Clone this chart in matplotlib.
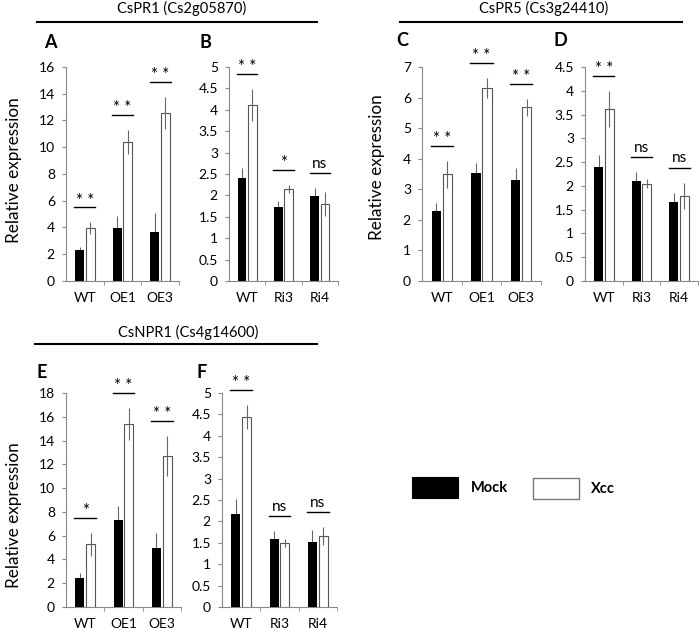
import numpy as np
import matplotlib.pyplot as plt
from matplotlib.patches import Rectangle
from matplotlib.ticker import FormatStrFormatter, FixedLocator

plt.rcParams['font.family'] = ['Lato', 'DejaVu Sans']

# ---- data ----
cats_oe = ['WT', 'OE1', 'OE3']
cats_ri = ['WT', 'Ri3', 'Ri4']

# CsPR1, panel A (overexpression) and B (RNAi)
a_mock = [2.31, 3.98, 3.68]
a_mock_err = [0.25, 0.90, 1.40]
a_xcc = [3.93, 10.40, 12.56]
a_xcc_err = [0.45, 0.90, 1.20]
a_sig = ['**', '**', '**']

b_mock = [2.40, 1.73, 1.99]
b_mock_err = [0.25, 0.13, 0.18]
b_xcc = [4.11, 2.15, 1.80]
b_xcc_err = [0.38, 0.10, 0.29]
b_sig = ['**', '*', 'ns']

# CsPR5, panel C and D
c_mock = [2.30, 3.52, 3.30]
c_mock_err = [0.24, 0.33, 0.39]
c_xcc = [3.49, 6.31, 5.68]
c_xcc_err = [0.45, 0.33, 0.28]
c_sig = ['**', '**', '**']

d_mock = [2.40, 2.10, 1.67]
d_mock_err = [0.25, 0.19, 0.19]
d_xcc = [3.62, 2.05, 1.79]
d_xcc_err = [0.38, 0.09, 0.28]
d_sig = ['**', 'ns', 'ns']

# CsNPR1, panel E and F
e_mock = [2.47, 7.29, 4.99]
e_mock_err = [0.39, 1.18, 1.23]
e_xcc = [5.27, 15.42, 12.67]
e_xcc_err = [0.98, 1.34, 1.68]
e_sig = ['*', '**', '**']

f_mock = [2.17, 1.58, 1.51]
f_mock_err = [0.35, 0.19, 0.28]
f_xcc = [4.45, 1.50, 1.66]
f_xcc_err = [0.28, 0.09, 0.20]
f_sig = ['**', 'ns', 'ns']

W, H = 700, 629
fig = plt.figure(figsize=(W / 100, H / 100), dpi=100)


def fx(x):
  return x / W


def fy(y):
  return 1 - y / H


def make_axes(x0, y0, x1, y1):
  return fig.add_axes([fx(x0), fy(y1), (x1 - x0) / W, (y1 - y0) / H])


def panel(ax, labels, mock, mock_err, xcc, xcc_err, sig, ymax, step):
  x = np.arange(len(labels)) + 0.5
  w = 0.24
  off = 0.14
  ax.bar(x - off, mock, w, color='black', zorder=3)
  ax.errorbar(x - off, mock, yerr=mock_err, fmt='none', ecolor='#666666',
              elinewidth=0.8, capsize=0, zorder=2)
  ax.bar(x + off, xcc, w, color='white', edgecolor='#555555', linewidth=0.8, zorder=3)
  ax.errorbar(x + off, xcc, yerr=xcc_err, fmt='none', ecolor='#666666',
              elinewidth=0.8, capsize=0, zorder=4)
  top = np.maximum(np.array(mock) + mock_err, np.array(xcc) + xcc_err) + 0.07 * ymax
  for xi, t, s in zip(x, top, sig):
    ax.plot([xi - off - w / 2 - 0.02, xi + off + w / 2 + 0.02], [t, t],
            color='black', lw=1.0, clip_on=False, zorder=5)
    if s == 'ns':
      ax.text(xi, t + 0.01 * ymax, s, ha='center', va='bottom', fontsize=11)
    else:
      ax.text(xi, t - 0.005 * ymax, s.replace('*', '* ').strip(), ha='center',
              va='bottom', fontsize=12)

  ax.set_xlim(0, len(labels))
  ax.set_ylim(0, ymax)
  ax.set_xticks(x)
  ax.set_xticklabels(labels, fontsize=10)
  ax.xaxis.set_minor_locator(FixedLocator(np.arange(1, len(labels) + 1)))
  ax.tick_params(axis='x', which='major', length=0, pad=8)
  ax.tick_params(axis='x', which='minor', length=3, direction='out', color='#888888')
  ax.set_yticks(np.arange(0, ymax + step / 2, step))
  ax.yaxis.set_major_formatter(FormatStrFormatter('%g'))
  ax.tick_params(axis='y', length=3, direction='out', color='#888888',
                 labelsize=10, pad=5)
  for side in ['top', 'right']:
    ax.spines[side].set_visible(False)
  for side in ['left', 'bottom']:
    ax.spines[side].set_color('#888888')
    ax.spines[side].set_linewidth(0.8)
  ax.set_facecolor('none')


axA = make_axes(66, 67, 179, 281)
panel(axA, cats_oe, a_mock, a_mock_err, a_xcc, a_xcc_err, a_sig, 16, 2)
axB = make_axes(229, 67, 338, 281)
panel(axB, cats_ri, b_mock, b_mock_err, b_xcc, b_xcc_err, b_sig, 5, 0.5)
axC = make_axes(422, 67, 541, 281)
panel(axC, cats_oe, c_mock, c_mock_err, c_xcc, c_xcc_err, c_sig, 7, 1)
axD = make_axes(585, 67, 698, 281)
panel(axD, cats_ri, d_mock, d_mock_err, d_xcc, d_xcc_err, d_sig, 4.5, 0.5)
axE = make_axes(66, 393, 181, 607)
panel(axE, cats_oe, e_mock, e_mock_err, e_xcc, e_xcc_err, e_sig, 18, 2)
axF = make_axes(222, 393, 337, 607)
panel(axF, cats_ri, f_mock, f_mock_err, f_xcc, f_xcc_err, f_sig, 5, 0.5)

# y labels
for x, y in [(14, 170), (377, 167), (14, 515)]:
  fig.text(fx(x), fy(y), 'Relative expression', rotation=90, ha='center',
           va='center', fontsize=12.3)

# gene titles with rule underneath
for title, cx, cy, x0, x1, ly in [('CsPR1 (Cs2g05870)', 182, 8, 37, 317, 22),
                                  ('CsPR5 (Cs3g24410)', 544, 8, 400, 682, 22),
                                  ('CsNPR1 (Cs4g14600)', 188, 332, 35, 317, 344)]:
  fig.text(fx(cx), fy(cy), title, ha='center', va='center', fontsize=10.5)
  fig.add_artist(plt.Line2D([fx(x0), fx(x1)], [fy(ly), fy(ly)], color='black', lw=1.5))

# panel letters
for letter, x, y in [('A', 50, 42), ('B', 205, 42), ('C', 402, 40),
                     ('D', 560, 40), ('E', 42, 373), ('F', 202, 373)]:
  fig.text(fx(x), fy(y), letter, ha='center', va='center', fontsize=13,
           fontweight='bold')

# legend
fig.add_artist(Rectangle((fx(412), fy(498)), 46 / W, 21 / H, facecolor='black',
                         edgecolor='black', lw=0.8, transform=fig.transFigure))
fig.text(fx(471), fy(488), 'Mock', ha='left', va='center', fontsize=10.5,
         fontweight='bold')
fig.add_artist(Rectangle((fx(533), fy(499)), 46 / W, 21 / H, facecolor='white',
                         edgecolor='#777777', lw=1.0, transform=fig.transFigure))
fig.text(fx(591), fy(489), 'Xcc', ha='left', va='center', fontsize=10.5,
         fontweight='bold')

fig.savefig('out.png', dpi=100)
